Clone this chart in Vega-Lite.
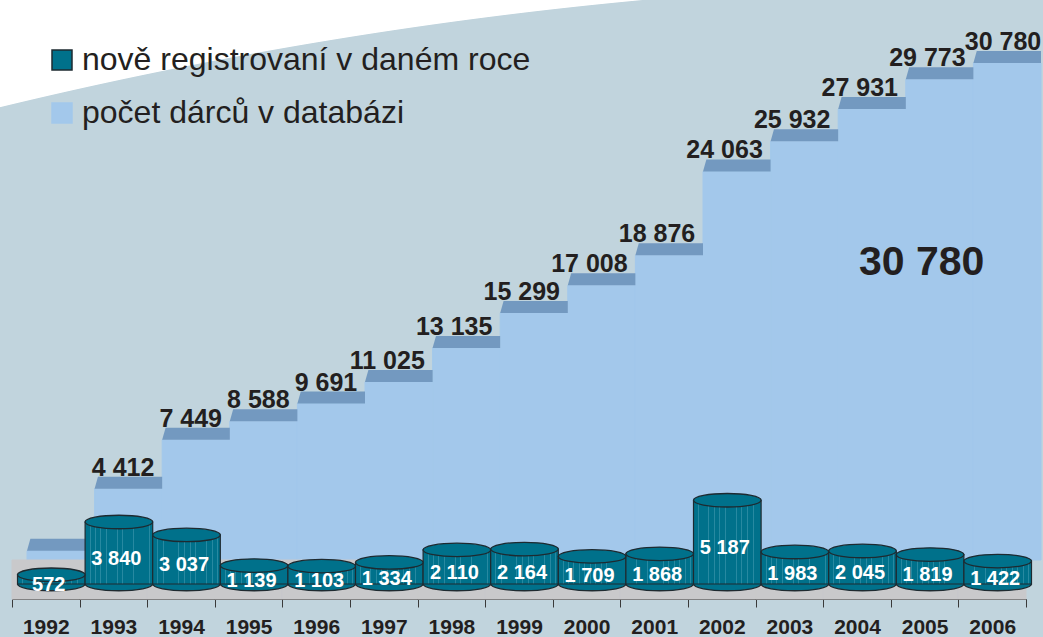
{
  "$schema": "https://vega.github.io/schema/vega-lite/v6.json",
  "width": 1043,
  "height": 599,
  "autosize": {"type": "none"},
  "padding": {"left": 0, "top": 0, "right": 0, "bottom": 38},
  "background": "#c1d4dd",
  "data": {
    "values": [
      {"year": "1992", "new": 572, "total": 572},
      {"year": "1993", "new": 3840, "total": 4412},
      {"year": "1994", "new": 3037, "total": 7449},
      {"year": "1995", "new": 1139, "total": 8588},
      {"year": "1996", "new": 1103, "total": 9691},
      {"year": "1997", "new": 1334, "total": 11025},
      {"year": "1998", "new": 2110, "total": 13135},
      {"year": "1999", "new": 2164, "total": 15299},
      {"year": "2000", "new": 1709, "total": 17008},
      {"year": "2001", "new": 1868, "total": 18876},
      {"year": "2002", "new": 5187, "total": 24063},
      {"year": "2003", "new": 1983, "total": 25932},
      {"year": "2004", "new": 2045, "total": 27931},
      {"year": "2005", "new": 1819, "total": 29773},
      {"year": "2006", "new": 1422, "total": 30780}
    ]
  },
  "encoding": {
    "x": {
      "field": "year",
      "type": "ordinal",
      "scale": {"type": "band", "paddingInner": 0, "paddingOuter": 0, "range": [12, 1026]},
      "axis": {"title": null}
    }
  },
  "layer": [
    {
      "layer": [
        {
          "mark": {"type": "bar", "xOffset": 15, "width": {"band": 1}, "strokeWidth": 1, "opacity": 1},
          "encoding": {
            "y": {"field": "total", "type": "quantitative", "scale": {"domain": [-2415, 34681]}, "axis": null},
            "fill": {
              "datum": "počet dárců v databázi",
              "type": "nominal",
              "scale": {"domain": ["nově registrovaní v daném roce", "počet dárců v databázi"], "range": ["#00718b", "#a3c8eb"]}
            },
            "stroke": {
              "datum": "počet dárců v databázi",
              "type": "nominal",
              "scale": {"domain": ["nově registrovaní v daném roce", "počet dárců v databázi"], "range": ["#1e2a30", "#a3c8eb"]}
            }
          }
        },
        {
          "mark": {"type": "point", "shape": "M-1,0 L1,0 L1,-0.355 L-0.9,-0.355 Z", "size": 4570, "xOffset": 15, "filled": true, "opacity": 1, "color": "#7399c0", "strokeWidth": 0},
          "encoding": {
            "y": {"field": "total", "type": "quantitative", "scale": {"domain": [-2415, 34681]}, "axis": null}
          }
        },
        {
          "transform": [{"filter": "datum.year != '1992' && datum.year != '2006'"}],
          "mark": {"type": "text", "align": "right", "baseline": "alphabetic", "xOffset": 41, "dy": -13, "fontSize": 25, "fontWeight": "bold", "font": "Liberation Sans", "color": "#231f20"},
          "encoding": {
            "y": {"field": "total", "type": "quantitative", "scale": {"domain": [-2415, 34681]}, "axis": null},
            "text": {"field": "total", "type": "quantitative", "format": ",d"}
          }
        },
        {
          "transform": [{"filter": "datum.year == '2006'"}],
          "mark": {"type": "text", "align": "right", "baseline": "alphabetic", "xOffset": 49, "dy": -13, "fontSize": 25, "fontWeight": "bold", "font": "Liberation Sans", "color": "#231f20"},
          "encoding": {
            "y": {"field": "total", "type": "quantitative", "scale": {"domain": [-2415, 34681]}, "axis": null},
            "text": {"field": "total", "type": "quantitative", "format": ",d"}
          }
        },
        {
          "mark": {"type": "bar", "width": {"band": 1}, "color": "#c9c9cb", "stroke": "#c9c9cb", "strokeWidth": 1},
          "encoding": {
            "y": {"datum": 0, "type": "quantitative", "scale": {"domain": [-2415, 34681]}, "axis": null},
            "y2": {"datum": -2415}
          }
        },
        {
          "mark": {"type": "point", "shape": "M-1,0 A1,0.2 0 0,0 1,0", "size": 4570, "xOffset": 5.5, "yOffset": 24, "filled": true, "opacity": 1, "fill": "#00718b", "stroke": "#1e2a30", "strokeWidth": 1.3},
          "encoding": {
            "y": {"datum": 0, "type": "quantitative", "scale": {"domain": [-2415, 34681]}, "axis": null}
          }
        },
        {
          "mark": {
            "type": "bar", "width": {"band": 1}, "xOffset": 5.5, "yOffset": 24, "y2Offset": 24,
            "stroke": "#1e2a30", "strokeWidth": 1.2, "opacity": 1,
            "fill": {
              "gradient": "linear", "x1": 0, "y1": 0, "x2": 1, "y2": 0,
              "stops": [
                {"offset": 0, "color": "#00718b"},
                {"offset": 0.07, "color": "#00718b"}, {"offset": 0.07, "color": "#2789a1"}, {"offset": 0.08, "color": "#2789a1"}, {"offset": 0.08, "color": "#00718b"},
                {"offset": 0.15, "color": "#00718b"}, {"offset": 0.15, "color": "#2789a1"}, {"offset": 0.16, "color": "#2789a1"}, {"offset": 0.16, "color": "#00718b"},
                {"offset": 0.22, "color": "#00718b"}, {"offset": 0.22, "color": "#2789a1"}, {"offset": 0.23, "color": "#2789a1"}, {"offset": 0.23, "color": "#00718b"},
                {"offset": 0.31, "color": "#00718b"}, {"offset": 0.31, "color": "#2789a1"}, {"offset": 0.32, "color": "#2789a1"}, {"offset": 0.32, "color": "#00718b"},
                {"offset": 0.38, "color": "#00718b"}, {"offset": 0.38, "color": "#2789a1"}, {"offset": 0.39, "color": "#2789a1"}, {"offset": 0.39, "color": "#00718b"},
                {"offset": 0.47, "color": "#00718b"}, {"offset": 0.47, "color": "#2789a1"}, {"offset": 0.48, "color": "#2789a1"}, {"offset": 0.48, "color": "#00718b"},
                {"offset": 0.55, "color": "#00718b"}, {"offset": 0.55, "color": "#2789a1"}, {"offset": 0.56, "color": "#2789a1"}, {"offset": 0.56, "color": "#00718b"},
                {"offset": 0.63, "color": "#00718b"}, {"offset": 0.63, "color": "#2789a1"}, {"offset": 0.64, "color": "#2789a1"}, {"offset": 0.64, "color": "#00718b"},
                {"offset": 0.71, "color": "#00718b"}, {"offset": 0.71, "color": "#2789a1"}, {"offset": 0.72, "color": "#2789a1"}, {"offset": 0.72, "color": "#00718b"},
                {"offset": 0.79, "color": "#00718b"}, {"offset": 0.79, "color": "#2789a1"}, {"offset": 0.8, "color": "#2789a1"}, {"offset": 0.8, "color": "#00718b"},
                {"offset": 0.88, "color": "#00718b"}, {"offset": 0.88, "color": "#2789a1"}, {"offset": 0.89, "color": "#2789a1"}, {"offset": 0.89, "color": "#00718b"},
                {"offset": 0.95, "color": "#00718b"}, {"offset": 0.95, "color": "#2789a1"}, {"offset": 0.96, "color": "#2789a1"}, {"offset": 0.96, "color": "#00718b"},
                {"offset": 1, "color": "#00718b"}
              ]
            }
          },
          "encoding": {
            "y": {"field": "new", "type": "quantitative", "scale": {"domain": [-2415, 34681]}, "axis": null}
          }
        },
        {
          "mark": {"type": "point", "shape": "M-1,0 A1,0.2 0 1,1 1,0 A1,0.2 0 1,1 -1,0 Z", "size": 4570, "xOffset": 5.5, "yOffset": 24, "filled": true, "opacity": 1, "strokeWidth": 1.3},
          "encoding": {
            "y": {"field": "new", "type": "quantitative", "scale": {"domain": [-2415, 34681]}, "axis": null},
            "fill": {
              "datum": "nově registrovaní v daném roce",
              "type": "nominal",
              "scale": {"domain": ["nově registrovaní v daném roce", "počet dárců v databázi"], "range": ["#00718b", "#a3c8eb"]},
              "legend": {
                "title": null, "orient": "none", "legendX": 46, "legendY": 44,
                "symbolType": "square", "symbolSize": 400, "symbolStrokeWidth": 1.5, "symbolOpacity": 1,
                "labelFont": "Liberation Sans", "labelFontSize": 32, "labelColor": "#231f20",
                "rowPadding": 21, "labelOffset": 4, "padding": 0, "labelLimit": 1000
              }
            },
            "stroke": {
              "datum": "nově registrovaní v daném roce",
              "type": "nominal",
              "scale": {"domain": ["nově registrovaní v daném roce", "počet dárců v databázi"], "range": ["#1e2a30", "#a3c8eb"]}
            }
          }
        },
        {
          "transform": [{"filter": "datum.year == '2006'"}],
          "mark": {"type": "text", "align": "center", "baseline": "middle", "xOffset": -3, "fontSize": 41, "fontWeight": "bold", "font": "Liberation Sans", "color": "#231f20"},
          "encoding": {
            "x": {"datum": "2005", "type": "ordinal"},
            "y": {"datum": 18400, "type": "quantitative", "scale": {"domain": [-2415, 34681]}, "axis": null},
            "text": {"field": "total", "type": "quantitative", "format": ",d"}
          }
        }
      ]
    },
    {
      "mark": {"type": "text", "align": "center", "baseline": "middle", "xOffset": 3, "fontSize": 20, "fontWeight": "bold", "font": "Liberation Sans", "color": "#ffffff"},
      "encoding": {
        "y": {"field": "new", "type": "quantitative", "scale": {"domain": [-1115, 73077]}, "axis": null},
        "text": {"field": "new", "type": "quantitative", "format": ",d"}
      }
    }
  ],
  "resolve": {"scale": {"y": "independent"}},
  "config": {
    "font": "Liberation Sans",
    "locale": {"number": {"decimal": ",", "thousands": " ", "grouping": [3], "currency": ["", ""]}},
    "view": {
      "stroke": null,
      "fill": {
        "gradient": "radial",
        "x1": 1.01534, "y1": 4.5052, "r1": 0,
        "x2": 1.01534, "y2": 4.5052, "r2": 4.3113,
        "stops": [
          {"offset": 0, "color": "#c1d4dd"},
          {"offset": 0.9998, "color": "#c1d4dd"},
          {"offset": 1, "color": "#ffffff"}
        ]
      }
    },
    "axis": {
      "title": null, "grid": false, "labelAngle": 0,
      "labelFont": "Liberation Sans", "labelFontSize": 21, "labelFontWeight": "bold", "labelColor": "#231f20",
      "labelPadding": 9, "domainColor": "#3a3a3a", "domainWidth": 1,
      "tickColor": "#3a3a3a", "tickWidth": 1, "tickSize": 8, "tickBand": "extent"
    }
  }
}
